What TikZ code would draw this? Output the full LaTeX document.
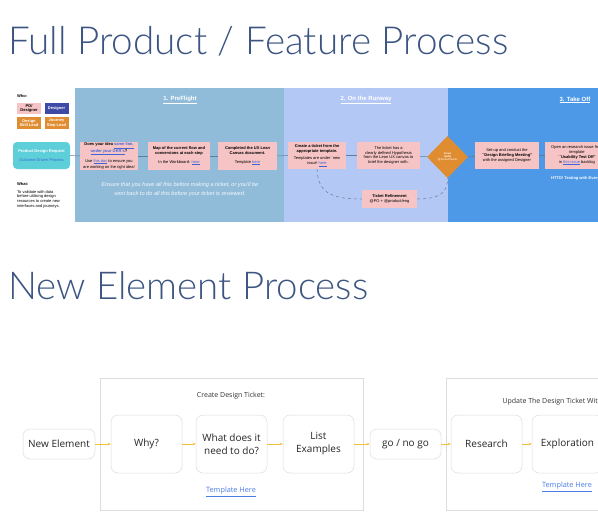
\documentclass[tikz,border=0pt]{standalone}
\usepackage{fontspec}
\IfFontExistsTF{Lato Light}{\newfontfamily\latof{Lato Light}}{\newfontfamily\latof{Lato}}
\newfontfamily\arialf{Liberation Sans}
\newfontfamily\osf{Open Sans}
\usetikzlibrary{shapes.geometric,arrows.meta}
\definecolor{titlec}{HTML}{3C5582}
\definecolor{sone}{HTML}{90BBD9}
\definecolor{stwo}{HTML}{B4C8F5}
\definecolor{sthree}{HTML}{4D99E8}
\definecolor{pinkc}{HTML}{F6C4C4}
\definecolor{navyc}{HTML}{3E4AA6}
\definecolor{orangec}{HTML}{E08C30}
\definecolor{tealc}{HTML}{5DCFD8}
\definecolor{linkc}{HTML}{3F63DA}
\definecolor{linec}{HTML}{5E7F9A}
\definecolor{yellowc}{HTML}{F2C13C}
\definecolor{borderc}{HTML}{DCDCDC}
\definecolor{tlinkc}{HTML}{4A7DE8}
\newcommand\tnyfont{\arialf\fontsize{4}{4.8}\selectfont}
\newcommand\lnk[1]{\textcolor{linkc}{\underline{#1}}}
\begin{document}
\begin{tikzpicture}[x=1pt,y=-1pt,
  pinkbox/.style={fill=pinkc, draw=none, font=\tnyfont, align=center, inner sep=1pt, minimum height=28pt, text=black},
  rolebox/.style={draw=none, font=\tnyfont\bfseries, align=center, inner sep=0pt, minimum width=24pt, minimum height=11.5pt},
  sechead/.style={font=\arialf\bfseries\fontsize{6}{7}\selectfont, text=white},
  flowline/.style={draw=linec, line width=0.5pt},
  dashline/.style={draw=linec, line width=0.5pt, dashed},
  elnode/.style={draw=borderc, fill=white, rounded corners=7pt, line width=0.5pt, font=\osf\fontsize{10}{13}\selectfont, align=center, text=black!85},
  container/.style={draw=borderc, line width=0.7pt},
  yarrow/.style={draw=yellowc, line width=0.7pt, -{Stealth[length=3pt,width=2.6pt]}},
  tlink/.style={font=\osf\fontsize{7.3}{9}\selectfont, text=tlinkc},
  ctitle/.style={font=\osf\fontsize{7}{9}\selectfont, text=black!80}
]
\useasboundingbox (0,0) rectangle (598,520);
\clip (0,0) rectangle (598,520);
\fill[white] (0,0) rectangle (598,520);

% Titles
\node[anchor=base west, inner sep=0, text=titlec] (t1) at (8,54) {\resizebox{500pt}{!}{\latof Full Product / Feature Process}};
\node[anchor=base west, inner sep=0, text=titlec] (t2) at (8,299) {\resizebox{360pt}{!}{\latof New Element Process}};

% Band sections
\fill[sone] (75,88) rectangle (284,222);
\fill[stwo] (284,88) rectangle (448,222);
\fill[sthree] (448,88) rectangle (598,222);

\node[sechead] (h1) at (180,100) {\underline{1. PreFlight}};
\node[sechead] (h2) at (366,100) {\underline{2. On the Runway}};
\node[sechead] (h3) at (575,100) {\underline{3. Take Off}};

% Left column
\node[anchor=west, inner sep=0, font=\tnyfont\bfseries] (who) at (17,96) {Who:};
\node[rolebox, fill=pinkc, text=black] (po) at (29,108.5) {PO/\\Designer};
\node[rolebox, fill=navyc, text=white] (des) at (56.5,108.5) {Designer};
\node[rolebox, fill=orangec, text=white] (dsl) at (29,123) {Design\\Skill Lead};
\node[rolebox, fill=orangec, text=white] (jsl) at (56.5,123) {Journey\\Step Lead};
\node[fill=tealc, rounded corners=4pt, minimum width=57pt, minimum height=27pt, align=center, font=\tnyfont, inner sep=0] (req) at (41.5,155.5)
  {\textcolor{white}{\bfseries Product Design Request}\\[4pt]\textcolor{linkc}{Outcome Driven Process}};
\node[anchor=west, inner sep=0, font=\tnyfont\bfseries] (what) at (17,184) {What:};
\node[anchor=north west, inner sep=0, font=\tnyfont, align=left] (whattxt) at (17,190)
  {To validate with data\\before utilising design\\resources to create new\\interfaces and journeys.};

% Section 1 boxes
\node[pinkbox, minimum width=58pt] (a) at (109,156)
  {\bfseries Does your idea \lnk{same line,}\\\bfseries\lnk{under your OKR's}?\\[3pt]Use \lnk{this doc} to ensure you\\are working on the right idea!};
\node[pinkbox, minimum width=62pt] (b) at (179,156)
  {\bfseries Map of the current flow and\\\bfseries conversions at each step\\[4pt]In the Workboard: \lnk{here}};
\node[pinkbox, minimum width=59pt] (c) at (247.5,156)
  {\bfseries Completed the UX Lean\\\bfseries Canvas document.\\[4pt]Template \lnk{here}};
\node[font=\arialf\itshape\fontsize{5.6}{8.5}\selectfont, text=white!92!sone, align=center] (ensure) at (180,189.5)
  {Ensure that you have all this before making a ticket, or you'll be\\sent back to do all this before your ticket is reviewed.};

% Section 2 boxes
\node[pinkbox, minimum width=58pt, minimum height=27pt] (d) at (317,155.5)
  {\bfseries Create a ticket from the\\\bfseries appropriate template.\\[3pt]Templates are under `new\\issue' \lnk{here}};
\node[pinkbox, minimum width=63pt, minimum height=27pt] (e) at (388.5,155.5)
  {The ticket has a\\clearly defined Hypothesis\\from the Lean UX canvas to\\brief the designer with.};
\node[diamond, fill=orangec, minimum width=41pt, minimum height=42pt, inner sep=0, font=\arialf\fontsize{2.8}{3.3}\selectfont, text=white, align=center] (dia) at (447.5,157)
  {\bfseries Issue\\\bfseries ready\\@product/team};
\node[pinkbox, minimum width=55pt, minimum height=18pt] (tr) at (389.5,199)
  {\bfseries Ticket Refinement\\@PO + @product/eng};

% Section 3 boxes
\node[pinkbox, minimum width=64pt, minimum height=27pt] (f) at (507,155.5)
  {Set-up and conduct the\\\bfseries ``Design Briefing Meeting''\\with the assigned Designer};
\node[pinkbox, minimum width=64pt, minimum height=27pt] (g) at (577,155.5)
  {Open an research issue from\\template\\\bfseries ``Usability Test Off''\\in \lnk{this issue} backlog};
\node[anchor=west, inner sep=0, font=\tnyfont\bfseries, text=white] (htto) at (551,178) {HTTO! Testing with Everyone};

% Flow lines
\draw[flowline] (req) -- (a);
\draw[flowline] (a) -- (b);
\draw[flowline] (b) -- (c);
\draw[flowline] (c) -- (d);
\draw[flowline] (d) -- (e);
\draw[flowline] (e) -- (dia);
\draw[flowline, -{Stealth[length=2pt,width=2pt]}] (dia) -- (f);
\draw[flowline] (f) -- (g);
\draw[dashline] (d.south) .. controls (318,195) and (335,199) .. (tr.west);
\draw[dashline] (tr.east) .. controls (440,199) and (448,192) .. (dia.south);

% New Element Process
\draw[container] (100,378) rectangle (363,510);
\draw[container] (446,378) rectangle (640,510);
\node[ctitle] (ct1) at (231,396) {Create Design Ticket:};
\node[ctitle, anchor=west] (ct2) at (499,402) {Update The Design Ticket With:};

\node[elnode, minimum width=72pt, minimum height=30pt] (ne) at (59,444) {New Element};
\node[elnode, minimum width=71pt, minimum height=58pt] (why) at (146.5,444) {Why?};
\node[elnode, minimum width=71pt, minimum height=58pt] (wdo) at (231.5,444) {What does it\\need to do?};
\node[elnode, minimum width=71pt, minimum height=58pt] (le) at (318.5,444) {List\\Examples};
\node[elnode, minimum width=71pt, minimum height=30pt] (go) at (405.5,444) {go / no go};
\node[elnode, minimum width=71pt, minimum height=58pt] (res) at (486.5,444) {Research};
\node[elnode, minimum width=71pt, minimum height=58pt] (exp) at (567.5,444) {Exploration};

\node[tlink] (tl1) at (231,492) {\underline{Template Here}};
\node[tlink] (tl2) at (567,487) {\underline{Template Here}};

\draw[yarrow] (ne) -- (why);
\draw[yarrow] (why) -- (wdo);
\draw[yarrow] (wdo) -- (le);
\draw[yarrow] (le) -- (go);
\draw[yarrow] (go) -- (res);
\draw[yarrow] (res) -- (exp);
\end{tikzpicture}
\end{document}
